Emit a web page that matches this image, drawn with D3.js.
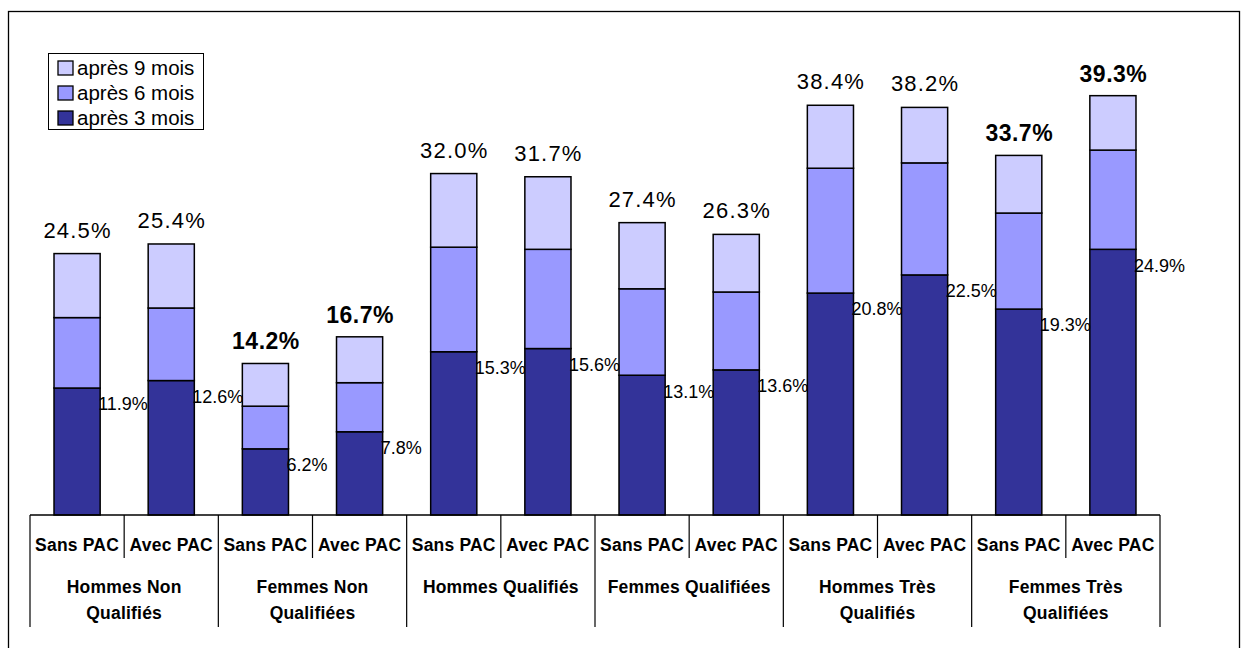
<!DOCTYPE html>
<html>
<head>
<meta charset="utf-8">
<script src="https://cdn.jsdelivr.net/npm/d3@7"></script>
<style>
  html, body { margin: 0; padding: 0; background: #fff; }
  svg { display: block; font-family: "Liberation Sans", Arial, sans-serif; }
</style>
</head>
<body>
<svg id="chart" width="1248" height="648"></svg>
<script>
// Taux cumulés de sortie (%) après 3, 6 et 9 mois
const subLabels = ["Sans PAC", "Avec PAC", "Sans PAC", "Avec PAC", "Sans PAC", "Avec PAC",
                   "Sans PAC", "Avec PAC", "Sans PAC", "Avec PAC", "Sans PAC", "Avec PAC"];
const groupLabels = [
  ["Hommes Non", "Qualifiés"],
  ["Femmes Non", "Qualifiées"],
  ["Hommes Qualifiés"],
  ["Femmes Qualifiées"],
  ["Hommes Très", "Qualifiés"],
  ["Femmes Très", "Qualifiées"]
];
const after3 = [11.9, 12.6, 6.2, 7.8, 15.3, 15.6, 13.1, 13.6, 20.8, 22.5, 19.3, 24.9];
const after6 = [18.5, 19.4, 10.2, 12.4, 25.1, 24.9, 21.2, 20.9, 32.5, 33.0, 28.3, 34.2];
const after9 = [24.5, 25.4, 14.2, 16.7, 32.0, 31.7, 27.4, 26.3, 38.4, 38.2, 33.7, 39.3];
const boldTotals = [false, false, true, true, false, false, false, false, false, false, true, true];
const seriesNames = ["après 9 mois", "après 6 mois", "après 3 mois"];

const colors = { m3: "#333399", m6: "#9999FF", m9: "#CCCCFF" };

const svg = d3.select("#chart");

// outer frame
svg.append("rect")
  .attr("x", 8.5).attr("y", 11.5)
  .attr("width", 1231).attr("height", 700)
  .attr("fill", "none").attr("stroke", "#000").attr("stroke-width", 1.3);

const idx = d3.range(after9.length);
const x = d3.scaleBand().domain(idx).range([30, 1160]).paddingInner(0.51).paddingOuter(0.255);
const y = d3.scaleLinear().domain([0, 40]).range([515, 88.2]);

// stacked segments: 3 mois, 6 mois, 9 mois (cumulative)
const segments = [];
idx.forEach(i => {
  segments.push({ i, y0: 0, y1: after3[i], c: colors.m3 });
  segments.push({ i, y0: after3[i], y1: after6[i], c: colors.m6 });
  segments.push({ i, y0: after6[i], y1: after9[i], c: colors.m9 });
});

svg.append("g").selectAll("rect").data(segments).join("rect")
  .attr("x", d => x(d.i))
  .attr("y", d => y(d.y1))
  .attr("width", x.bandwidth())
  .attr("height", d => y(d.y0) - y(d.y1))
  .attr("fill", d => d.c)
  .attr("stroke", "#000")
  .attr("stroke-width", 1.5);

// totals above bars
svg.append("g").selectAll("text").data(idx).join("text")
  .attr("x", i => x(i) + x.bandwidth() / 2 + 0.5)
  .attr("y", i => y(after9[i]) - (boldTotals[i] ? 14 : 16))
  .attr("text-anchor", "middle")
  .attr("font-size", i => boldTotals[i] ? 23 : 22)
  .attr("font-weight", i => boldTotals[i] ? "bold" : "normal")
  .attr("letter-spacing", i => boldTotals[i] ? 0.5 : 1.2)
  .attr("fill", "#000")
  .text(i => after9[i].toFixed(1) + "%");

// 3-month labels beside the dark segment
svg.append("g").selectAll("text").data(idx).join("text")
  .attr("x", i => x(i) + x.bandwidth() - 2)
  .attr("y", i => y(after3[i]) + 16)
  .attr("dy", "0.35em")
  .attr("font-size", 18)
  .attr("fill", "#000")
  .text(i => after3[i].toFixed(1) + "%");

// category axis
const axisY = 515;
const step = x.step();
const axis = svg.append("g").attr("stroke", "#000");
axis.append("line")
  .attr("x1", 30).attr("x2", 1160).attr("y1", axisY).attr("y2", axisY)
  .attr("stroke-width", 1.5);
d3.range(13).forEach(k => {
  const xx = 30 + k * step;
  const tall = k % 2 === 0;
  axis.append("line")
    .attr("x1", xx).attr("x2", xx)
    .attr("y1", axisY).attr("y2", tall ? 627 : 558)
    .attr("stroke-width", 1.2);
});

svg.append("g").selectAll("text").data(idx).join("text")
  .attr("x", i => x(i) + x.bandwidth() / 2)
  .attr("y", 545)
  .attr("dy", "0.35em")
  .attr("text-anchor", "middle")
  .attr("font-size", 17.5)
  .attr("font-weight", "bold")
  .attr("letter-spacing", 0.2)
  .text(i => subLabels[i]);

const gl = svg.append("g");
groupLabels.forEach((lines, g) => {
  const cx = 30 + (2 * g + 1) * step;
  const t = gl.append("text")
    .attr("text-anchor", "middle")
    .attr("font-size", 17.5)
    .attr("font-weight", "bold")
    .attr("letter-spacing", 0.2);
  lines.forEach((ln, j) => {
    t.append("tspan").attr("x", cx).attr("y", 587 + j * 26).attr("dy", "0.35em").text(ln);
  });
});

// legend
const legend = svg.append("g");
legend.append("rect")
  .attr("x", 48.5).attr("y", 53.5).attr("width", 155).attr("height", 76)
  .attr("fill", "#fff").attr("stroke", "#000").attr("stroke-width", 1);
const legendColors = [colors.m9, colors.m6, colors.m3];
seriesNames.forEach((name, k) => {
  const cy = 68 + k * 25;
  legend.append("rect")
    .attr("x", 58).attr("y", cy - 7).attr("width", 15).attr("height", 14)
    .attr("fill", legendColors[k]).attr("stroke", "#000").attr("stroke-width", 1.3);
  legend.append("text")
    .attr("x", 77).attr("y", cy).attr("dy", "0.35em")
    .attr("font-size", 20.5)
    .text(name);
});
</script>
</body>
</html>
